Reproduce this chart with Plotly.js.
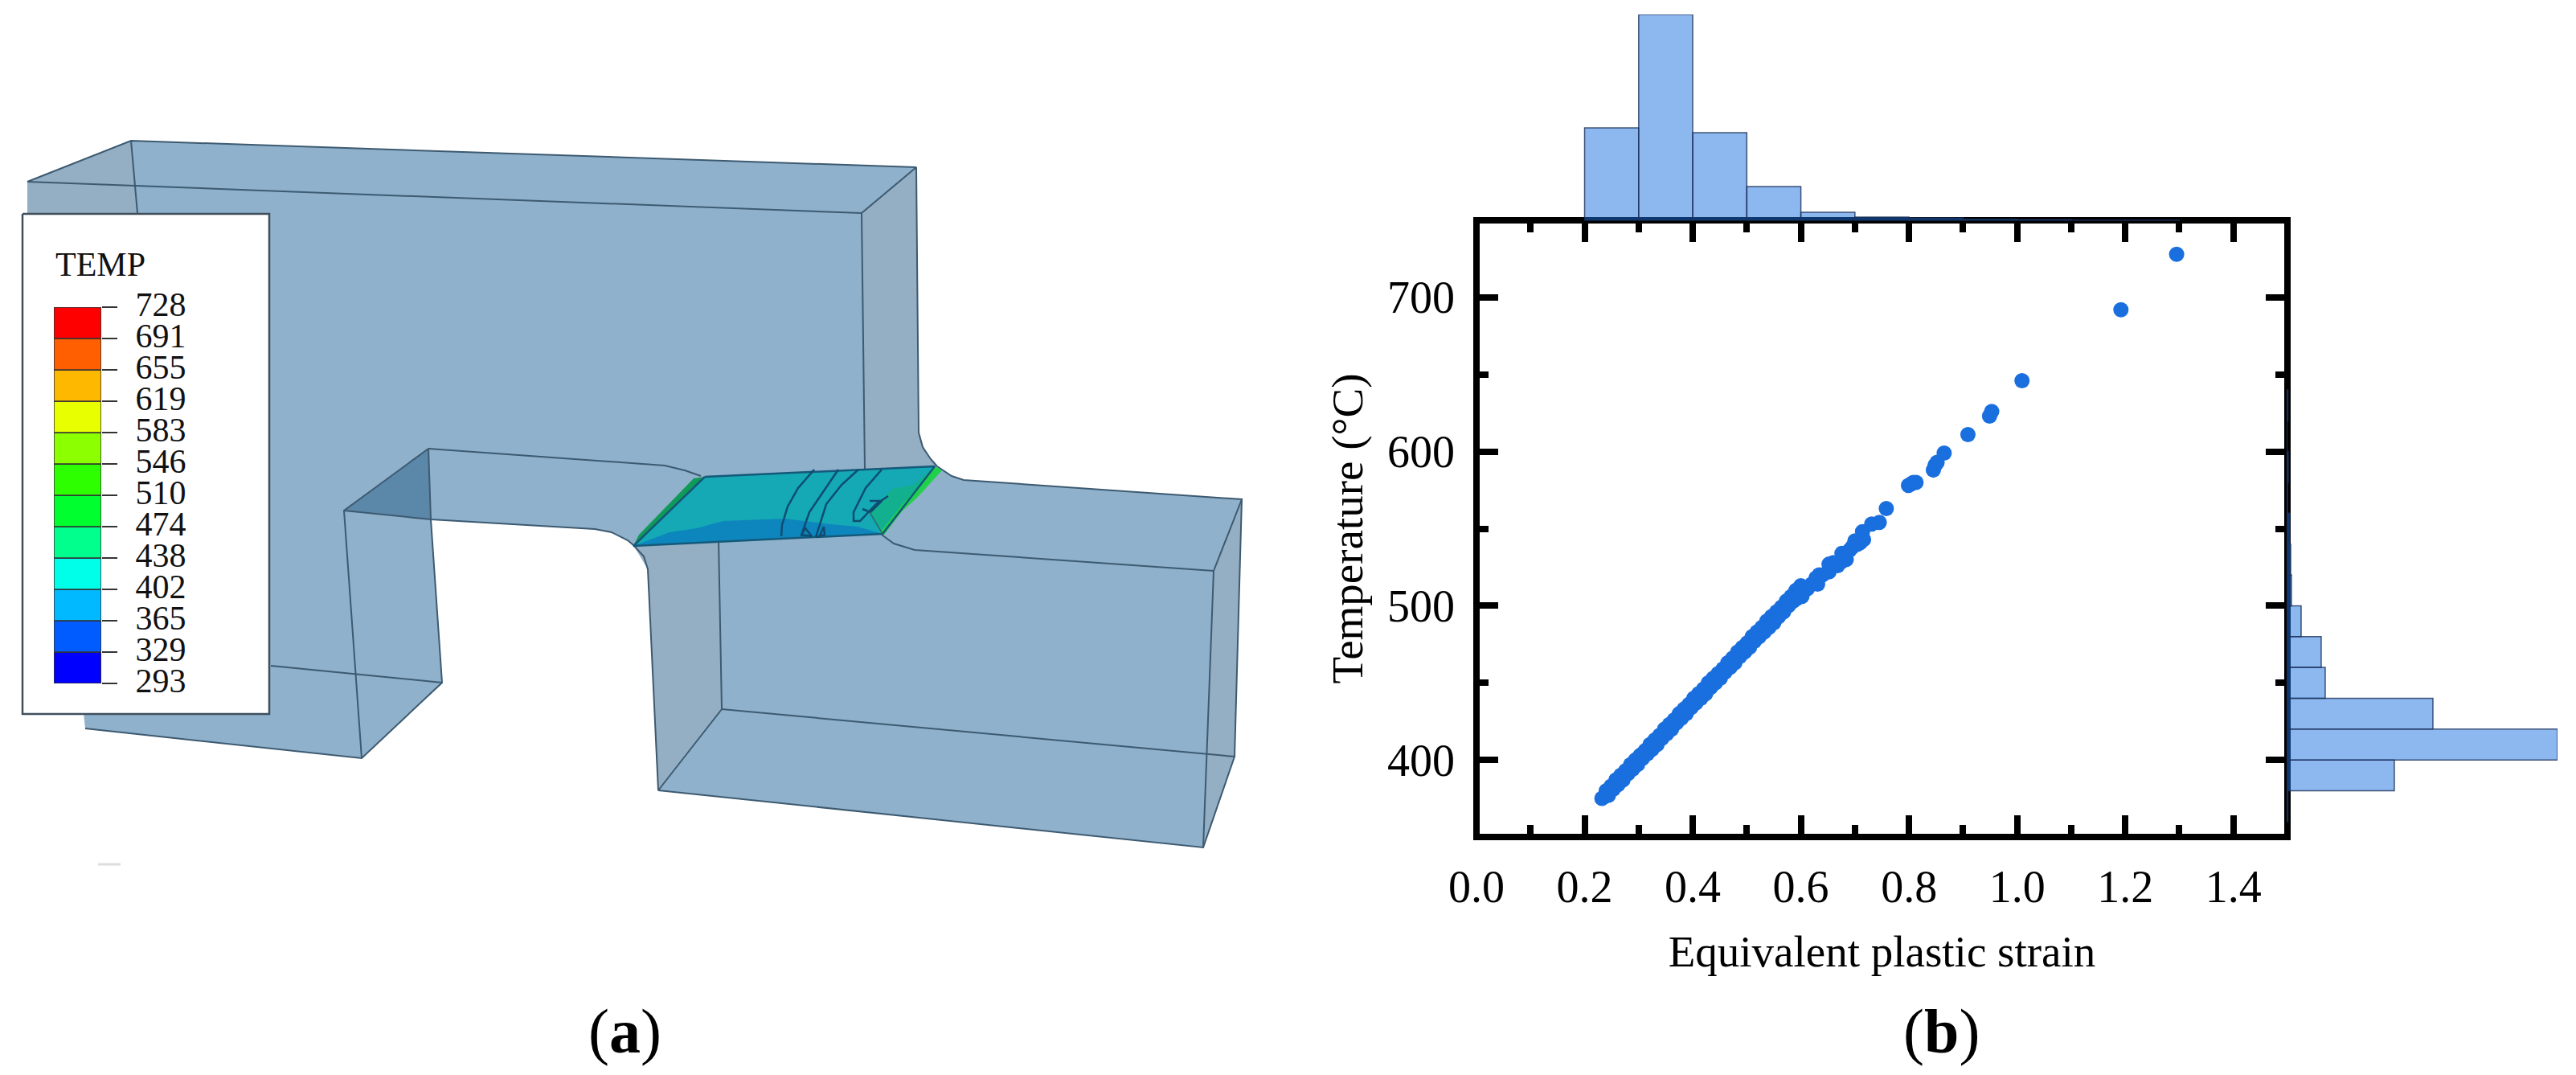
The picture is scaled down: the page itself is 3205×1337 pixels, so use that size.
<!DOCTYPE html>
<html><head><meta charset="utf-8">
<script src="https://cdn.plot.ly/plotly-3.0.1.min.js"></script>
<style>html,body{margin:0;padding:0;background:#fff}</style></head>
<body><div id="chart" style="width:3205px;height:1337px"></div>
<script>
// ---------- panel (b): scatter values ----------
const strain = [.232,.236,.24,.245,.25,.256,.262,.268,.274,.28,.286,.29,.297,.303,.309,.315,.32,.327,.333,.34,.346,.352,.358,.365,.371,.377,.384,.39,.396,.403,.409,.415,.42,.428,.434,.44,.447,.453,.46,.466,.472,.478,.485,.491,.497,.503,.51,.516,.522,.53,.536,.545,.55,.555,.56,.568,.575,.581,.59,.594,.602,.606,.612,.62,.631,.634,.64,.652,.66,.668,.677,.684,.69,.695,.705,.71,.714,.716,.731,.745,.758,.799,.804,.808,.813,.845,.848,.852,.865,.909,.949,.953,1.009,1.192,1.295,
  .24,.249,.258,.267,.276,.285,.294,.303,.312,.321,.33,.339,.348,.357,.366,.375,.384,.393,.402,.411,.42,.429,.438,.447,.456,.465,.474,.483,.492,.501,.51,.519,.528,.537,.546,.555,.564,.573,.582,.591,.6,.628,.652,.676,.70,
  .244,.253,.262,.271,.28,.289,.298,.307,.316,.325,.334,.343,.352,.361,.37,.379,.388,.397,.406,.415,.424,.433,.442,.451,.46,.469,.478,.487,.496,.505,.514,.523,.532,.541,.55,.559,.568,.577,.586,.595];
const temperature = [375,376,377,379,381,383,386,387,390,392,394,397,399,401,404,405,408,410,412,415,417,419,421,424,426,428,431,433,435,437,440,442,444,447,449,451,454,456,458,461,463,465,468,470,472,474,477,479,482,484,487,490,489,494,496,498,500,502,507,505,506,511,511,514,514,520,520,522,528,526,529,530,536,538,540,541,548,543,553,554,563,578,579,580,580,588,591,593,599,611,623,626,646,692,728,
  380,383,387,390,393,397,400,403,406,410,413,416,420,423,426,430,433,436,440,443,446,450,453,456,459,463,466,470,473,476,480,483,486,490,493,496,499,503,506,510,513,518,527,534,542,
  377,381,384,387,391,394,397,401,404,407,410,414,417,420,424,427,430,434,437,440,443,447,450,453,457,460,463,467,470,473,477,480,483,486,490,493,496,500,503,506];
const strainBins = [.25,.35,.45,.55,.65,.75,.85,.95,1.05,1.15,1.25];
const strainCounts = [115.5,256.5,109.5,42.5,10.5,4.5,3.5,2,1.5,.8,.8];
const tempBins = [370,390,410,430,450,470,490,510,530,550,570,590,610,630];
const tempCounts = [1.5,134,337,182,48,43,18,6,5,3.7,1.2,2,.5,1.5];
const xTickFormat = '.1f';

// ---------- panel (a): contour legend ----------
const tempLabels = ['293','329','365','402','438','474','510','546','583','619','655','691','728'];
const bandColors = ['#0000ff','#005cff','#00b9ff','#00ffe8','#00ff8c','#00ff2e','#2dff00','#8cff00','#e8ff00','#ffb800','#ff5f00','#ff0000'];
const bandCentres = [.5,1.5,2.5,3.5,4.5,5.5,6.5,7.5,8.5,9.5,10.5,11.5];
const bandWidths = [1,1,1,1,1,1,1,1,1,1,1,1];

// ---------- panel (a): part outline, read in picture units ----------
const bodyX = [34,163,1140,1143,1148,1158,1166,1184,1199,1545,1536,1497,819,806,801,796,781,761,740,536,550,450,106,34];
const bodyY = [226,175,208,538,556,571,580,592,597,621,941,1054,983,708,692,686,672,662,658,646,849,943,906,226];
const sideX = [34,163,171,34,null,1072,1140,1143,1151,1166,1078,null,788,894,898,819,806,null,1510,1545,1536,1497];
const sideY = [226,175,265,265,null,265,208,538,562,580,584,null,678,671,882,983,708,null,710,621,941,1054];
const wedgeX = [533,428,536];
const wedgeY = [558,635,646];
const edgeX = [34,163,1140,1072,34,null,1072,1076,null,163,171,null,337,550,null,106,450,550,536,533,428,450,null,428,536,740,761,781,788,null,533,827,852,872,null,1166,1184,1199,1545,1510,1497,819,898,894,null,1097,1112,1138,1510,null,898,1536,1497,null,1545,1536,null,1140,1143,1148,1158,1166,null,788,796,801,806,819];
const edgeY = [226,175,208,265,226,null,265,584,null,175,265,null,828,849,null,906,943,849,646,558,635,943,null,635,646,658,662,672,678,null,558,579,585,592,null,580,592,597,621,710,1054,983,882,671,null,665,676,684,710,null,882,941,1054,null,621,941,null,208,538,556,571,580,null,678,686,692,708,983];
const smudgeX = [122,150];
const smudgeY = [1075,1075];

// ---------- shear band ----------
const bandX = [877,1163,1098,788];
const bandY = [593,580,664,679];
const coolX = [788,1098,1067,1033,977,900,867,833];
const coolY = [679,664,655,652,645,648,657,662];
const warmX = [1163,1147,1123,1095,1083,1110,1137];
const warmY = [580,600,627,660,637,608,603];
const hotX = [1163,1172,1140,1123,1100,1095,1123,1147];
const hotY = [580,585,620,635,665,662,627,600];
const rimX = [788,877,863,795];
const rimY = [679,593,595,665];
const crackX = [1013,993,980,973,972,null,1043,1023,1007,1000,997,null,1068,1047,1028,1020,1015,null,1097,1077,1062,1062,1070,1090,1105,null,1082,1097,1083,1073,null,997,1002,1010,997,null,1020,1025,1026,1015];
const crackY = [584,607,630,653,667,null,584,613,637,657,667,null,584,603,627,653,668,null,584,607,637,648,648,627,617,null,623,623,637,633,null,665,657,667,665,null,666,655,665,668];
const rimEdgeX = [877,1163,1098,788,877];
const rimEdgeY = [593,580,664,679,593];
const hiddenEdgeX = [1082,1098];
const hiddenEdgeY = [637,664];

// ---------- legend box ----------
const boxX = [28,335,335,28,28];
const boxY = [266,266,888,888,266];

const W = 3205, H = 1337;
const fx = p => p / W, fy = p => 1 - p / H;
const serif = '"Liberation Serif","Times New Roman",serif';
const blue = '#1a6fdf', barFill = 'rgba(26,111,223,0.5)', barEdge = 'rgba(28,48,88,0.8)';

function poly(x, y, fill, line, w) {
  return {type:'scatter', mode:'lines', x, y, xaxis:'x', yaxis:'y', fill:'toself', fillcolor:fill,
          line:{color:line||'rgba(0,0,0,0)', width:w||0}, hoverinfo:'skip', showlegend:false};
}
function stroke(x, y, color, w) {
  return {type:'scatter', mode:'lines', x, y, xaxis:'x', yaxis:'y', line:{color, width:w},
          hoverinfo:'skip', showlegend:false};
}

const traces = [
  poly(bodyX, bodyY, '#8fb1cc'),
  poly(sideX, sideY, '#94aec4'),
  poly(wedgeX, wedgeY, '#5b87a9'),
  stroke(edgeX, edgeY, '#3d5a70', 2),
  poly(bandX, bandY, '#14a9b4'),
  poly(coolX, coolY, '#0d86bd'),
  poly(warmX, warmY, '#12b08e'),
  poly(hotX, hotY, '#1fd24a'),
  poly(rimX, rimY, '#0f9a58'),
  stroke(rimEdgeX, rimEdgeY, '#15597a', 2.5),
  stroke(crackX, crackY, '#0f4c72', 2.5),
  stroke(hiddenEdgeX, hiddenEdgeY, '#2f6a70', 1.5),
  stroke(smudgeX, smudgeY, '#dddddd', 3),
  poly(boxX, boxY, '#ffffff', '#3f4f5c', 2.5),
  {type:'scatter', mode:'markers', x:strain, y:temperature, xaxis:'x2', yaxis:'y2',
   marker:{color:blue, size:19}, hoverinfo:'skip', showlegend:false},
  {type:'bar', x:strainBins, y:strainCounts, width:.1, xaxis:'x3', yaxis:'y3',
   marker:{color:barFill, line:{color:barEdge, width:1.5}}, hoverinfo:'skip', showlegend:false},
  {type:'bar', orientation:'h', y:tempBins, x:tempCounts, width:20, xaxis:'x4', yaxis:'y4',
   marker:{color:barFill, line:{color:barEdge, width:1.5}}, hoverinfo:'skip', showlegend:false},
  {type:'bar', orientation:'h', y:bandCentres, x:bandWidths, width:1, xaxis:'x5', yaxis:'y5',
   marker:{color:bandColors, line:{color:'#333', width:1.5}}, hoverinfo:'skip', showlegend:false}
];

const hidden = {visible:false, fixedrange:true};
const mainX = [fx(1837), fx(2846)], mainY = [fy(1041), fy(274)];
const layout = {
  width:W, height:H, margin:{l:0,r:0,t:0,b:0}, paper_bgcolor:'#fff', plot_bgcolor:'rgba(0,0,0,0)',
  showlegend:false, bargap:0, font:{family:serif, color:'#000', size:55},
  xaxis:{...hidden, domain:[0,1], range:[0,W]},
  yaxis:{...hidden, domain:[0,1], range:[H,0]},
  xaxis2:{domain:mainX, range:[0,1.5], anchor:'y2', showgrid:false, zeroline:false, showline:false, mirror:'ticks',
          tick0:0, dtick:.2, ticks:'inside', ticklen:27, tickwidth:8, tickcolor:'#000', tickformat:xTickFormat,
          minor:{dtick:.1, ticks:'inside', ticklen:15, tickwidth:8, tickcolor:'#000', showgrid:false},
          tickfont:{family:serif, size:56}, ticklabelstandoff:24,
          title:{text:'Equivalent plastic strain', font:{family:serif, size:55}, standoff:30}},
  yaxis2:{domain:mainY, range:[350,750], anchor:'x2', showgrid:false, zeroline:false, showline:false, mirror:'ticks',
          tick0:400, dtick:100, ticks:'inside', ticklen:27, tickwidth:8, tickcolor:'#000',
          minor:{dtick:50, ticks:'inside', ticklen:15, tickwidth:8, tickcolor:'#000', showgrid:false},
          tickfont:{family:serif, size:56}, ticklabelstandoff:26,
          title:{text:'Temperature (°C)', font:{family:serif, size:55}, standoff:12}},
  xaxis3:{...hidden, domain:mainX, range:[0,1.5], anchor:'y3'},
  yaxis3:{...hidden, domain:[fy(274.5), fy(18)], range:[0,256.5], anchor:'x3'},
  xaxis4:{...hidden, domain:[fx(2845), fx(3182)], range:[0,337], anchor:'y4'},
  yaxis4:{...hidden, domain:mainY, range:[350,750], anchor:'x4'},
  xaxis5:{...hidden, domain:[fx(67), fx(126)], range:[0,1], anchor:'y5'},
  yaxis5:{domain:[fy(850), fy(382)], range:[0,12], anchor:'x5', side:'right', fixedrange:true,
          showgrid:false, zeroline:false, showline:false,
          tickmode:'array', tickvals:[0,1,2,3,4,5,6,7,8,9,10,11,12], ticktext:tempLabels,
          ticks:'outside', ticklen:19, tickwidth:2, tickcolor:'#333', ticklabelshift:-4,
          tickfont:{family:serif, size:42, color:'#111'}, ticklabelstandoff:14},
  shapes:[{type:'rect', xref:'x2 domain', yref:'y2 domain', x0:0, x1:1, y0:0, y1:1, layer:'below',
           line:{color:'#000', width:8}, fillcolor:'rgba(0,0,0,0)'}],
  annotations:[
    {text:'TEMP', xref:'paper', yref:'paper', x:fx(67), y:fy(329), xanchor:'left', yanchor:'middle', showarrow:false,
     font:{family:serif, size:42, color:'#111'}},
    {text:'(<b>a</b>)', xref:'paper', yref:'paper', x:fx(777), y:fy(1282), xanchor:'center', yanchor:'middle', showarrow:false,
     font:{family:serif, size:78, color:'#000'}},
    {text:'(<b>b</b>)', xref:'paper', yref:'paper', x:fx(2415), y:fy(1282), xanchor:'center', yanchor:'middle', showarrow:false,
     font:{family:serif, size:78, color:'#000'}}
  ]
};
Plotly.newPlot('chart', traces, layout, {staticPlot:true, displayModeBar:false});
</script></body></html>
